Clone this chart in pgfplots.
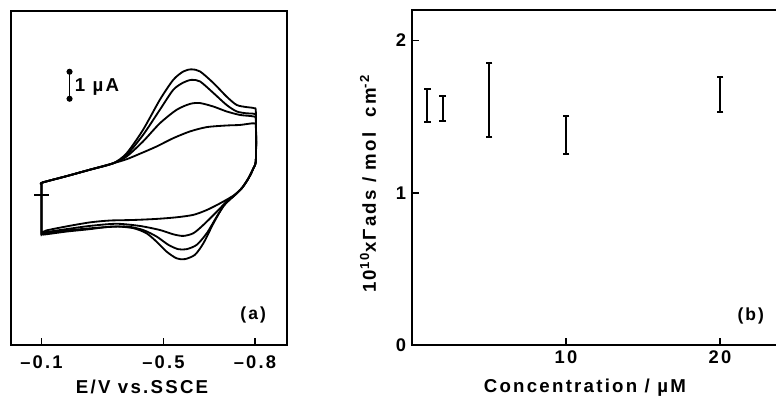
\documentclass[border=0pt]{standalone}
\usepackage{fontspec}
\setmainfont{Liberation Sans}[LetterSpace=12, BoldFeatures={LetterSpace=12}]
\usepackage{pgfplots}
\pgfplotsset{compat=1.18}
\pgfplotsset{
  common/.style={
    scale only axis, anchor=south west,
    font=\fontsize{11}{13}\selectfont\bfseries,
    /pgf/number format/assume math mode=true,
    tick pos=left, tick align=inside, major tick length=4pt,
    axis line style={line width=1.1pt},
    major tick style={line width=1.1pt, black},
    label style={font=\fontsize{11.2}{13}\selectfont\bfseries},
  },
  ebar/.style={black, line width=1.2pt, mark=-, mark size=2pt, mark options={line width=1.2pt}},
}
\begin{document}
\begin{tikzpicture}
\useasboundingbox (0,0) rectangle (465.6pt,-237.6pt);
% ---------------- panel (a)
\begin{axis}[common,
  at={(6.6pt,-207pt)}, width=165.6pt, height=200.4pt,
  x dir=reverse, xmin=-0.905, xmax=0, ymin=-5.56, ymax=6.81,
  xtick={-0.1,-0.5,-0.8}, xticklabels={–0.1,–0.5,–0.8}, ytick=\empty,
  xticklabel style={yshift=-3pt},
  xlabel={E/V vs.SSCE},
  xlabel style={at={(axis description cs:0.475,-0.125)}, anchor=center},
]
\addplot[black, line width=1.1pt, smooth, tension=0.45] coordinates {
(-0.100,0.40) (-0.104,0.46) (-0.181,0.69) (-0.258,0.93) (-0.335,1.17) (-0.379,1.54) (-0.433,2.41) (-0.488,3.52) (-0.532,4.26) (-0.565,4.57) (-0.592,4.65) (-0.620,4.57) (-0.664,4.14) (-0.707,3.64) (-0.740,3.33) (-0.773,3.25) (-0.797,3.21) (-0.803,3.05) (-0.803,1.30) (-0.795,0.99) (-0.779,0.62) (-0.757,0.25) (-0.729,-0.06) (-0.696,-0.43) (-0.664,-1.05) (-0.631,-1.79) (-0.603,-2.22) (-0.570,-2.38) (-0.543,-2.35) (-0.510,-2.10) (-0.477,-1.73) (-0.444,-1.42) (-0.400,-1.23) (-0.335,-1.17) (-0.258,-1.27) (-0.181,-1.36) (-0.115,-1.46) (-0.102,-1.46) (-0.100,-1.30) (-0.100,0.40)};
\addplot[black, line width=1.1pt, smooth, tension=0.45] coordinates {
(-0.100,0.40) (-0.104,0.46) (-0.181,0.69) (-0.258,0.93) (-0.335,1.17) (-0.379,1.48) (-0.433,2.22) (-0.488,3.15) (-0.532,3.89) (-0.565,4.16) (-0.592,4.26) (-0.620,4.20) (-0.664,3.77) (-0.707,3.33) (-0.740,3.09) (-0.773,3.02) (-0.797,3.00) (-0.803,2.85) (-0.803,1.30) (-0.795,0.99) (-0.779,0.62) (-0.757,0.25) (-0.729,-0.06) (-0.707,-0.25) (-0.675,-0.80) (-0.642,-1.42) (-0.609,-1.85) (-0.576,-2.01) (-0.548,-2.01) (-0.516,-1.85) (-0.477,-1.54) (-0.433,-1.30) (-0.379,-1.17) (-0.291,-1.21) (-0.181,-1.32) (-0.115,-1.42) (-0.102,-1.44) (-0.100,-1.30) (-0.100,0.40)};
\addplot[black, line width=1.1pt, smooth, tension=0.45] coordinates {
(-0.100,0.40) (-0.104,0.46) (-0.181,0.69) (-0.258,0.93) (-0.335,1.17) (-0.379,1.42) (-0.433,1.98) (-0.488,2.65) (-0.543,3.15) (-0.587,3.37) (-0.620,3.40) (-0.664,3.27) (-0.707,3.09) (-0.751,2.96) (-0.797,2.90) (-0.803,2.75) (-0.803,1.30) (-0.795,0.99) (-0.779,0.62) (-0.757,0.25) (-0.729,-0.06) (-0.718,-0.12) (-0.675,-0.62) (-0.631,-1.11) (-0.598,-1.42) (-0.565,-1.52) (-0.532,-1.46) (-0.488,-1.30) (-0.422,-1.15) (-0.346,-1.07) (-0.258,-1.15) (-0.181,-1.27) (-0.115,-1.38) (-0.102,-1.42) (-0.100,-1.30) (-0.100,0.40)};
\addplot[black, line width=1.1pt, smooth, tension=0.45] coordinates {
(-0.100,0.40) (-0.104,0.46) (-0.181,0.69) (-0.258,0.93) (-0.335,1.17) (-0.379,1.32) (-0.422,1.52) (-0.477,1.79) (-0.532,2.10) (-0.587,2.35) (-0.642,2.51) (-0.707,2.57) (-0.751,2.59) (-0.797,2.65) (-0.803,2.50) (-0.803,1.30) (-0.795,0.99) (-0.779,0.62) (-0.757,0.25) (-0.729,-0.03) (-0.686,-0.31) (-0.642,-0.56) (-0.598,-0.74) (-0.543,-0.83) (-0.477,-0.89) (-0.400,-0.93) (-0.324,-0.95) (-0.258,-1.02) (-0.181,-1.17) (-0.115,-1.32) (-0.102,-1.40) (-0.100,-1.30) (-0.100,0.40)};
% zero-current cross
\addplot[black, line width=1pt] coordinates {(-0.077,0) (-0.126,0)};
% 1 uA scale bar
\addplot[black, line width=0.8pt, mark=*, mark size=1.4pt] coordinates {(-0.192,3.56) (-0.192,4.56)};
\node[anchor=west, font=\fontsize{11.2}{13}\selectfont\bfseries, inner sep=0pt] at (axis cs:-0.208,4.0) {1 µA};
\node[font=\fontsize{10.5}{12}\selectfont\bfseries] at (axis cs:-0.794,-4.44) {(a)};
\end{axis}
% ---------------- panel (b)
\begin{axis}[common,
  at={(247.2pt,-207pt)}, width=231pt, height=201pt,
  xmin=0, xmax=25, ymin=0, ymax=2.2,
  xtick={10,20}, ytick={0,1,2},
  xlabel={Concentration / µM},
  xlabel style={at={(axis description cs:0.449,-0.127)}, anchor=center},
  ylabel={10\textsuperscript{10}xΓads / mol \ cm\textsuperscript{-2}},
  ylabel style={at={(axis description cs:-0.114,0.482)}, anchor=center},
]
\addplot[ebar] coordinates {(1,1.462) (1,1.679)};
\addplot[ebar] coordinates {(2,1.469) (2,1.637)};
\addplot[ebar] coordinates {(5,1.369) (5,1.851)};
\addplot[ebar] coordinates {(10,1.253) (10,1.502)};
\addplot[ebar] coordinates {(20,1.532) (20,1.762)};
\node[font=\fontsize{10.5}{12}\selectfont\bfseries] at (axis cs:22.0,0.19) {(b)};
\end{axis}
\end{tikzpicture}
\end{document}
